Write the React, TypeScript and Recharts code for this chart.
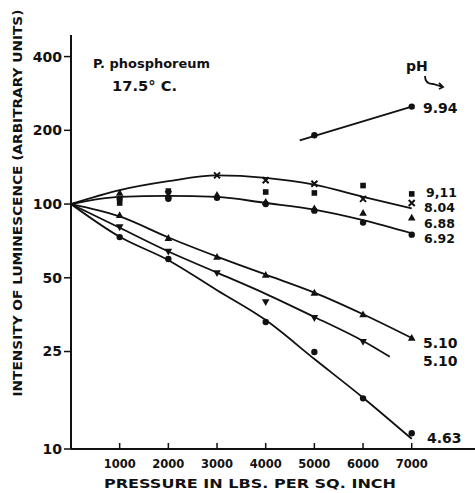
import React from 'react';
import { ComposedChart, Line, Scatter, XAxis, YAxis } from 'recharts';

// pressure (lbs / sq. inch) and luminescence values
const pressureTicks = [1000, 2000, 3000, 4000, 5000, 6000, 7000];
const intensityTicks = [10, 25, 50, 100, 200, 400];

// fitted curves
const fitPressure = [0, 1000, 2000, 3000, 4000, 5000, 6000, 7000];
const fit804 = [100, 114, 124, 131, 128, 120, 107, 96];
const fit690 = [100, 107, 108, 107, 101, 95, 86, 76];
const fit510a = [100, 89, 73, 61, 51.5, 43.5, 35.5, 28.4];
const fit463 = [100, 73.5, 59, 44.5, 33.6, 23.3, 16.2, 11.0];
const fit510bPressure = [0, 1000, 2000, 3000, 4000, 5000, 6000, 6550];
const fit510b = [100, 80, 64, 52.5, 43, 34.6, 27.6, 23.8];
const fit994Pressure = [4700, 7000];
const fit994 = [182, 250];

// measured points
const p994 = [5000, 7000];
const v994 = [191, 250];
const p911 = [1000, 2000, 4000, 5000, 6000, 7000];
const v911 = [101, 113, 112, 111, 119, 110];
const p804 = [2000, 3000, 4000, 5000, 6000, 7000];
const v804 = [110, 131, 125, 121, 105, 101];
const p688 = [1000, 2000, 3000, 4000, 5000, 6000, 7000];
const v688 = [111, 108, 109, 102, 96, 92, 88];
const p692 = [1000, 2000, 3000, 4000, 5000, 6000, 7000];
const v692 = [105, 105, 106, 100, 94, 84, 75];
const p510a = [1000, 2000, 3000, 4000, 5000, 6000, 7000];
const v510a = [90, 72.6, 60.8, 51.3, 43.4, 35.4, 28.4];
const p510b = [1000, 2000, 3000, 4000, 5000, 6000];
const v510b = [80.5, 64, 52.3, 39.8, 34.3, 27.4];
const p463 = [1000, 2000, 4000, 5000, 6000, 7000];
const v463 = [73.3, 59.7, 33, 24.9, 16.1, 11.6];

const FONT = 'DejaVu Sans';
const INK = '#111';

const zip = (xs: number[], ys: number[]) => xs.map((x, i) => ({ x, y: ys[i] }));

const DotShape = (p: any) => <circle cx={p.cx} cy={p.cy} r={3.2} fill={INK} />;
const SquareShape = (p: any) => (
  <rect x={p.cx - 2.8} y={p.cy - 2.8} width={5.6} height={5.6} fill={INK} />
);
const CrossShape = (p: any) => (
  <path
    d={`M${p.cx - 3},${p.cy - 3}L${p.cx + 3},${p.cy + 3}M${p.cx + 3},${p.cy - 3}L${p.cx - 3},${p.cy + 3}`}
    stroke={INK}
    strokeWidth={2}
  />
);
const TriUpShape = (p: any) => (
  <path d={`M${p.cx},${p.cy - 4}L${p.cx + 3.8},${p.cy + 2.8}L${p.cx - 3.8},${p.cy + 2.8}Z`} fill={INK} />
);
const TriDownShape = (p: any) => (
  <path d={`M${p.cx},${p.cy + 4}L${p.cx + 3.8},${p.cy - 2.8}L${p.cx - 3.8},${p.cy - 2.8}Z`} fill={INK} />
);

const XTick = (props: any) => {
  const { x, y, payload } = props;
  return (
    <g>
      <line x1={x} x2={x} y1={y} y2={y - 6} stroke={INK} strokeWidth={1.5} />
      <text x={x} y={y + 19} textAnchor="middle" fontFamily={FONT} fontSize={11.5} fontWeight="bold" fill={INK}>
        {payload.value}
      </text>
    </g>
  );
};

const lineStyle = { stroke: INK, strokeWidth: 1.8, dot: false, isAnimationActive: false };

const labelStyle = { fontFamily: FONT, fontSize: 14, fontWeight: 'bold' as const, fill: INK };
const stackStyle = { ...labelStyle, fontSize: 12.5 };

export default function App() {
  return (
    <div style={{ position: 'absolute', left: 0, top: 0, width: 475, height: 493, background: '#fff' }}>
      <ComposedChart width={475} height={493} margin={{ top: 35, right: 0, bottom: 0, left: 0 }}>
        <XAxis
          type="number"
          dataKey="x"
          domain={[0, 8300]}
          ticks={pressureTicks}
          allowDataOverflow
          height={44}
          tickSize={0}
          tickMargin={0}
          tickLine={false}
          axisLine={{ stroke: INK, strokeWidth: 2 }}
          tick={<XTick />}
        />
        <YAxis
          type="number"
          dataKey="y"
          scale="log"
          domain={[10, 490]}
          ticks={intensityTicks}
          allowDataOverflow
          width={71}
          tickSize={7}
          tickMargin={2}
          axisLine={{ stroke: INK, strokeWidth: 2 }}
          tickLine={{ stroke: INK, strokeWidth: 1.5 }}
          tick={{ fill: INK, fontFamily: FONT, fontSize: 14, fontWeight: 'bold' }}
        />
        <Line data={zip(fitPressure, fit804)} dataKey="y" type="monotone" {...lineStyle} />
        <Line data={zip(fitPressure, fit690)} dataKey="y" type="monotone" {...lineStyle} />
        <Line data={zip(fitPressure, fit510a)} dataKey="y" type="monotone" {...lineStyle} />
        <Line data={zip(fit510bPressure, fit510b)} dataKey="y" type="monotone" {...lineStyle} />
        <Line data={zip(fitPressure, fit463)} dataKey="y" type="monotone" {...lineStyle} />
        <Line data={zip(fit994Pressure, fit994)} dataKey="y" type="linear" {...lineStyle} />
        <Scatter data={zip(p994, v994)} dataKey="y" shape={DotShape} isAnimationActive={false} />
        <Scatter data={zip(p911, v911)} dataKey="y" shape={SquareShape} isAnimationActive={false} />
        <Scatter data={zip(p804, v804)} dataKey="y" shape={CrossShape} isAnimationActive={false} />
        <Scatter data={zip(p688, v688)} dataKey="y" shape={TriUpShape} isAnimationActive={false} />
        <Scatter data={zip(p692, v692)} dataKey="y" shape={DotShape} isAnimationActive={false} />
        <Scatter data={zip(p510a, v510a)} dataKey="y" shape={TriUpShape} isAnimationActive={false} />
        <Scatter data={zip(p510b, v510b)} dataKey="y" shape={TriDownShape} isAnimationActive={false} />
        <Scatter data={zip(p463, v463)} dataKey="y" shape={DotShape} isAnimationActive={false} />
      </ComposedChart>
      <svg
        width={475}
        height={493}
        style={{ position: 'absolute', left: 0, top: 0, pointerEvents: 'none' }}
      >
        <text
          transform="translate(22,203) rotate(-90)"
          textAnchor="middle"
          textLength={387}
          lengthAdjust="spacingAndGlyphs"
          fontFamily={FONT}
          fontSize={13}
          fontWeight="bold"
          fill={INK}
        >
          INTENSITY OF LUMINESCENCE (ARBITRARY UNITS)
        </text>
        <text
          x={250}
          y={488}
          textAnchor="middle"
          textLength={292}
          lengthAdjust="spacingAndGlyphs"
          fontFamily={FONT}
          fontSize={13}
          fontWeight="bold"
          fill={INK}
        >
          PRESSURE IN LBS. PER SQ. INCH
        </text>
        <text x={93} y={68} textLength={117} lengthAdjust="spacingAndGlyphs" {...labelStyle} fontSize={13}>
          P. phosphoreum
        </text>
        <text x={112} y={91} textLength={65} lengthAdjust="spacingAndGlyphs" {...labelStyle} fontSize={14}>
          17.5° C.
        </text>
        <text x={406} y={71} {...labelStyle} fontSize={14}>
          pH
        </text>
        <path d="M425,76 Q425,84 433,84 L443,87 M439,83 L443,87 L439,89" stroke={INK} strokeWidth={1.8} fill="none" />
        <text x={423} y={113} {...labelStyle}>9.94</text>
        <text x={426} y={197} {...stackStyle}>9,11</text>
        <text x={424} y={212} {...stackStyle}>8.04</text>
        <text x={424} y={228} {...stackStyle}>6.88</text>
        <text x={424} y={243} {...stackStyle}>6.92</text>
        <text x={423} y={348} {...labelStyle}>5.10</text>
        <text x={423} y={366} {...labelStyle}>5.10</text>
        <text x={427} y={443} {...labelStyle}>4.63</text>
      </svg>
    </div>
  );
}
